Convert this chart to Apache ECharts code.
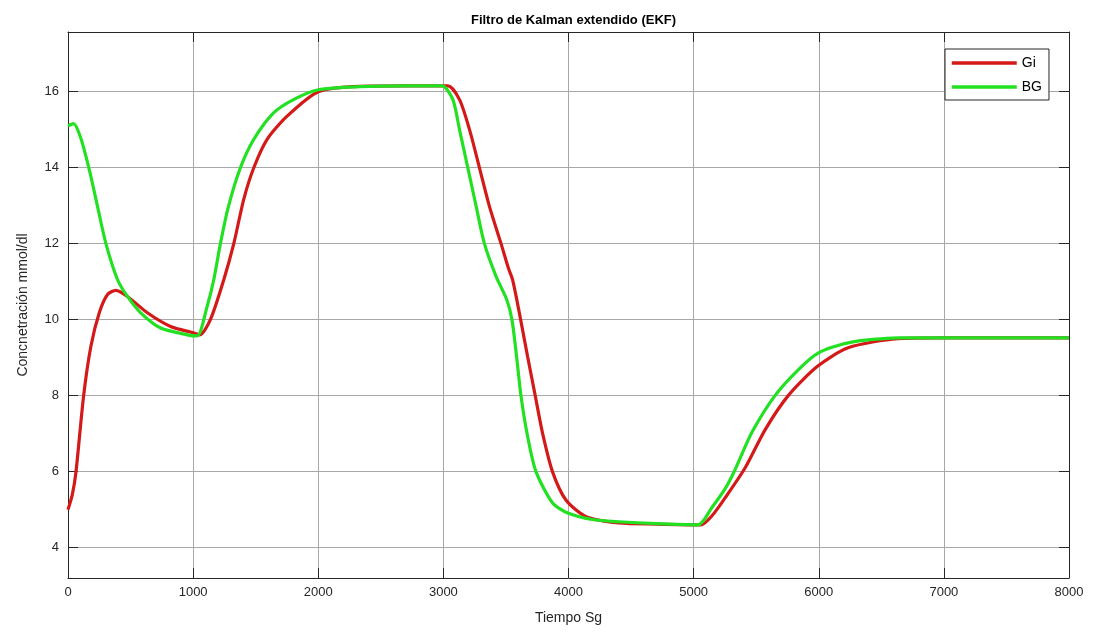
<!DOCTYPE html>
<html>
<head>
<meta charset="utf-8">
<script src="https://cdn.jsdelivr.net/npm/echarts@6/dist/echarts.min.js"></script>
<style>html,body{margin:0;padding:0;background:#fff}#c{width:1095px;height:636px}</style>
</head>
<body>
<div id="c"></div>
<script>
const titleText = 'Filtro de Kalman extendido (EKF)';
const xName = 'Tiempo Sg';
const yName = 'Concnetración mmol/dl';
const yTicks = [4, 6, 8, 10, 12, 14, 16];
const seriesNames = ['Gi', 'BG'];

const timeGi = [0, 35, 64, 125, 183, 250, 316, 382, 475, 634, 820, 1006, 1053, 1138, 1245, 1325, 1404, 1484, 1590, 1749, 2001, 2333, 2700, 3036, 3129, 3209, 3288, 3368, 3461, 3520, 3553, 3607, 3673, 3734, 3792, 3872, 3978, 4137, 4403, 4700, 5060, 5150, 5250, 5412, 5571, 5756, 5990, 6234, 6632, 7000, 7500, 8000];
const valGi  = [5.0, 5.4, 6.0, 8.0, 9.3, 10.18, 10.66, 10.77, 10.61, 10.18, 9.82, 9.65, 9.6, 10.0, 11.05, 12.0, 13.16, 13.99, 14.74, 15.35, 16.0, 16.14, 16.15, 16.15, 15.79, 15.0, 14.0, 12.98, 12.0, 11.35, 11.05, 10.18, 9.03, 8.0, 7.02, 6.0, 5.26, 4.82, 4.65, 4.62, 4.6, 4.85, 5.3, 6.1, 7.1, 8.0, 8.77, 9.26, 9.5, 9.52, 9.52, 9.52];

const timeBG = [0, 45, 100, 170, 236, 303, 396, 475, 581, 740, 953, 1032, 1112, 1165, 1218, 1280, 1377, 1484, 1643, 1802, 2001, 2333, 2700, 2990, 3076, 3129, 3195, 3262, 3328, 3421, 3506, 3548, 3585, 3620, 3673, 3740, 3872, 3994, 4190, 4403, 4700, 5036, 5145, 5252, 5331, 5464, 5650, 5836, 5995, 6234, 6632, 7000, 7500, 8000];
const valBG  = [15.1, 15.16, 14.8, 13.95, 12.98, 12.0, 11.05, 10.61, 10.18, 9.78, 9.6, 9.57, 10.35, 11.05, 12.0, 12.95, 13.99, 14.74, 15.44, 15.79, 16.05, 16.13, 16.15, 16.15, 15.79, 15.0, 14.0, 12.98, 12.0, 11.14, 10.53, 10.0, 9.03, 8.0, 6.93, 6.0, 5.18, 4.91, 4.74, 4.68, 4.63, 4.6, 5.05, 5.55, 6.05, 7.02, 8.0, 8.68, 9.12, 9.39, 9.52, 9.52, 9.52, 9.52];

const colors = ['#d41919', '#22e022'];

const chart = echarts.init(document.getElementById('c'), null, {renderer: 'canvas'});
const font = 'Liberation Sans, Arial, Helvetica, sans-serif';
const pairs = (t, v) => t.map((x, i) => [x, v[i]]);

chart.setOption({
  animation: false,
  backgroundColor: '#ffffff',
  title: {
    text: titleText, left: 568.5, top: 9, textAlign: 'center',
    textStyle: {fontFamily: font, fontSize: 13, fontWeight: 'bold', color: '#000'}
  },
  legend: {
    data: seriesNames, orient: 'vertical', left: 945, top: 49,
    padding: [7, 7, 6, 5], itemGap: 10, itemWidth: 65, itemHeight: 14,
    borderColor: '#262626', borderWidth: 1, backgroundColor: '#fff', borderRadius: 0,
    itemStyle: {color: 'rgba(0,0,0,0)', borderColor: 'rgba(0,0,0,0)', borderWidth: 0, opacity: 0},
    lineStyle: {width: 3.5},
    textStyle: {fontFamily: font, fontSize: 14, color: '#000', padding: [0, 0, 0, 0]}
  },
  grid: {left: 68, right: 26, top: 32, bottom: 58, containLabel: false},
  xAxis: [{
    type: 'value', min: 0, max: 8000, interval: 1000,
    name: xName, nameLocation: 'middle', nameGap: 33,
    nameTextStyle: {fontFamily: font, fontSize: 14, color: '#262626'},
    axisLine: {show: true, onZero: false, lineStyle: {color: '#262626', width: 1}},
    axisTick: {show: true, inside: true, length: 10, lineStyle: {color: '#262626'}},
    axisLabel: {fontFamily: font, fontSize: 13, color: '#262626', margin: 8, formatter: v => String(v)},
    splitLine: {show: true, lineStyle: {color: '#a8a8a8', width: 1}}
  }, {
    type: 'value', min: 0, max: 8000, interval: 1000, position: 'top',
    axisLine: {show: true, onZero: false, lineStyle: {color: '#262626', width: 1}},
    axisTick: {show: true, inside: true, length: 10, lineStyle: {color: '#262626'}},
    axisLabel: {show: false}, splitLine: {show: false}
  }],
  yAxis: [{
    type: 'value', min: 3.2, max: 17.57,
    name: yName, nameLocation: 'middle', nameGap: 38,
    nameTextStyle: {fontFamily: font, fontSize: 14, color: '#262626'},
    axisLine: {show: true, onZero: false, lineStyle: {color: '#262626', width: 1}},
    axisTick: {show: true, inside: true, length: 10, customValues: yTicks, lineStyle: {color: '#262626'}},
    axisLabel: {fontFamily: font, fontSize: 13, color: '#262626', margin: 9, customValues: yTicks},
    splitLine: {show: true, lineStyle: {color: '#a8a8a8', width: 1}}
  }, {
    type: 'value', min: 3.2, max: 17.57, position: 'right',
    axisLine: {show: true, onZero: false, lineStyle: {color: '#262626', width: 1}},
    axisTick: {show: true, inside: true, length: 10, customValues: yTicks, lineStyle: {color: '#262626'}},
    axisLabel: {show: false, customValues: yTicks}, splitLine: {show: false}
  }],
  series: [{
    name: seriesNames[0], type: 'line', data: pairs(timeGi, valGi),
    xAxisIndex: 0, yAxisIndex: 0,
    smooth: 0.25, symbol: 'none', clip: true,
    lineStyle: {color: colors[0], width: 3.2}, itemStyle: {color: colors[0]}
  }, {
    name: seriesNames[1], type: 'line', data: pairs(timeBG, valBG),
    xAxisIndex: 0, yAxisIndex: 0,
    smooth: 0.25, symbol: 'none', clip: true,
    lineStyle: {color: colors[1], width: 3.2}, itemStyle: {color: colors[1]}
  }]
});
</script>
</body>
</html>
